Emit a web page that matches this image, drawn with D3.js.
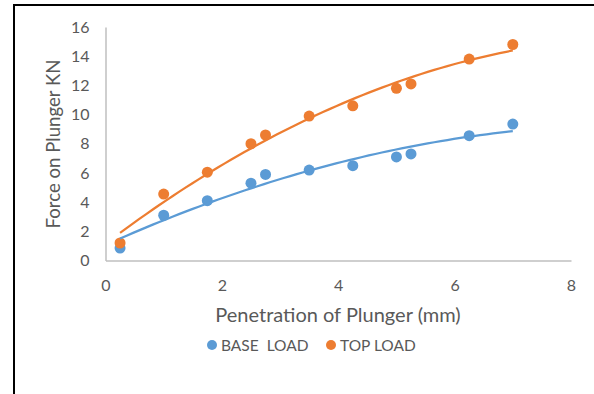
<!DOCTYPE html>
<html>
<head>
<meta charset="utf-8">
<script src="https://cdn.jsdelivr.net/npm/d3@7"></script>
<style>
  body { margin: 0; background: #fff; }
  text { font-family: Lato, "Open Sans", sans-serif; }
</style>
</head>
<body>
<svg width="594" height="394"></svg>
<script>
// penetration (mm) and force (kN)
const penetration = [0.25, 1.0, 1.75, 2.5, 2.75, 3.5, 4.25, 5.0, 5.25, 6.25, 7.0];
const baseLoad = [0.85, 3.1, 4.1, 5.3, 5.9, 6.2, 6.5, 7.1, 7.3, 8.55, 9.35];
const topLoad = [1.2, 4.55, 6.05, 8.0, 8.6, 9.9, 10.6, 11.8, 12.1, 13.8, 14.8];
const xTicks = [0, 2, 4, 6, 8];
const yTicks = [0, 2, 4, 6, 8, 10, 12, 14, 16];

let svg = d3.select("svg");

// outer frame (cropped on right and bottom)
svg.append("path")
    .attr("d", "M14,394 V5 H594")
    .attr("fill", "none")
    .attr("stroke", "#000")
    .attr("stroke-width", 2);

let x = d3.scaleLinear().domain([0, 8]).range([105.5, 571]);
let y = d3.scaleLinear().domain([0, 16]).range([260.5, 27]);

// axes
let gx = svg.append("g")
    .attr("transform", "translate(0," + y(0) + ")")
    .call(d3.axisBottom(x).tickValues(xTicks).tickSize(0).tickPadding(19));
gx.select(".domain").attr("stroke", "#bfbfbf").attr("stroke-width", 1.5);

let gy = svg.append("g")
    .attr("transform", "translate(" + x(0) + ",0)")
    .call(d3.axisLeft(y).tickValues(yTicks).tickSize(0).tickPadding(16));
gy.select(".domain").attr("stroke", "#bfbfbf").attr("stroke-width", 1.5);

svg.selectAll(".tick text")
    .attr("fill", "#595959")
    .style("font-size", "16px")
    .style("font-family", "Lato, sans-serif");

svg.append("text")
    .attr("x", 338).attr("y", 322)
    .attr("text-anchor", "middle")
    .attr("fill", "#595959")
    .style("font-size", "20px")
    .text("Penetration of Plunger (mm)");

svg.append("text")
    .attr("transform", "translate(60,144) rotate(-90)")
    .attr("text-anchor", "middle")
    .attr("fill", "#595959")
    .style("font-size", "18.6px")
    .text("Force on Plunger KN");

// quadratic least squares fit (excel polynomial trendline)
function polyFit(xs, ys) {
    let n = xs.length, s = [0, 0, 0, 0, 0], t = [0, 0, 0];
    for (let i = 0; i < n; i++) {
        for (let k = 0; k <= 4; k++) s[k] += Math.pow(xs[i], k);
        for (let k = 0; k <= 2; k++) t[k] += ys[i] * Math.pow(xs[i], k);
    }
    let m = [[s[0], s[1], s[2], t[0]], [s[1], s[2], s[3], t[1]], [s[2], s[3], s[4], t[2]]];
    for (let i = 0; i < 3; i++) {
        for (let j = i + 1; j < 3; j++) {
            let f = m[j][i] / m[i][i];
            for (let k = i; k < 4; k++) m[j][k] -= f * m[i][k];
        }
    }
    let c = [0, 0, 0];
    for (let i = 2; i >= 0; i--) {
        let v = m[i][3];
        for (let k = i + 1; k < 3; k++) v -= m[i][k] * c[k];
        c[i] = v / m[i][i];
    }
    return function (v) { return c[0] + c[1] * v + c[2] * v * v; };
}

let series = [
    {name: "BASE  LOAD", values: baseLoad, color: "#5b9bd5"},
    {name: "TOP LOAD", values: topLoad, color: "#ed7d31"}
];

series.forEach(function (s) {
    svg.append("g").selectAll("circle")
        .data(penetration)
        .enter().append("circle")
        .attr("cx", function (d) { return x(d); })
        .attr("cy", function (d, i) { return y(s.values[i]); })
        .attr("r", 5.5)
        .attr("fill", s.color);
});

let line = d3.line()
    .x(function (d) { return x(d[0]); })
    .y(function (d) { return y(d[1]); });

series.forEach(function (s) {
    let f = polyFit(penetration, s.values);
    let pts = d3.range(0, 61).map(function (i) {
        let v = 0.25 + (7.0 - 0.25) * i / 60;
        return [v, f(v)];
    });
    svg.append("path")
        .attr("d", line(pts))
        .attr("fill", "none")
        .attr("stroke", s.color)
        .attr("stroke-width", 2.25);
});

// legend
let legend = svg.append("g");
let lx = [212, 331];
series.forEach(function (s, i) {
    legend.append("circle")
        .attr("cx", lx[i]).attr("cy", 345)
        .attr("r", 5)
        .attr("fill", s.color);
    legend.append("text")
        .attr("x", lx[i] + 9).attr("y", 350.5)
        .attr("fill", "#595959")
        .style("font-size", "15.5px")
        .style("white-space", "pre")
        .text(s.name);
});
</script>
</body>
</html>
